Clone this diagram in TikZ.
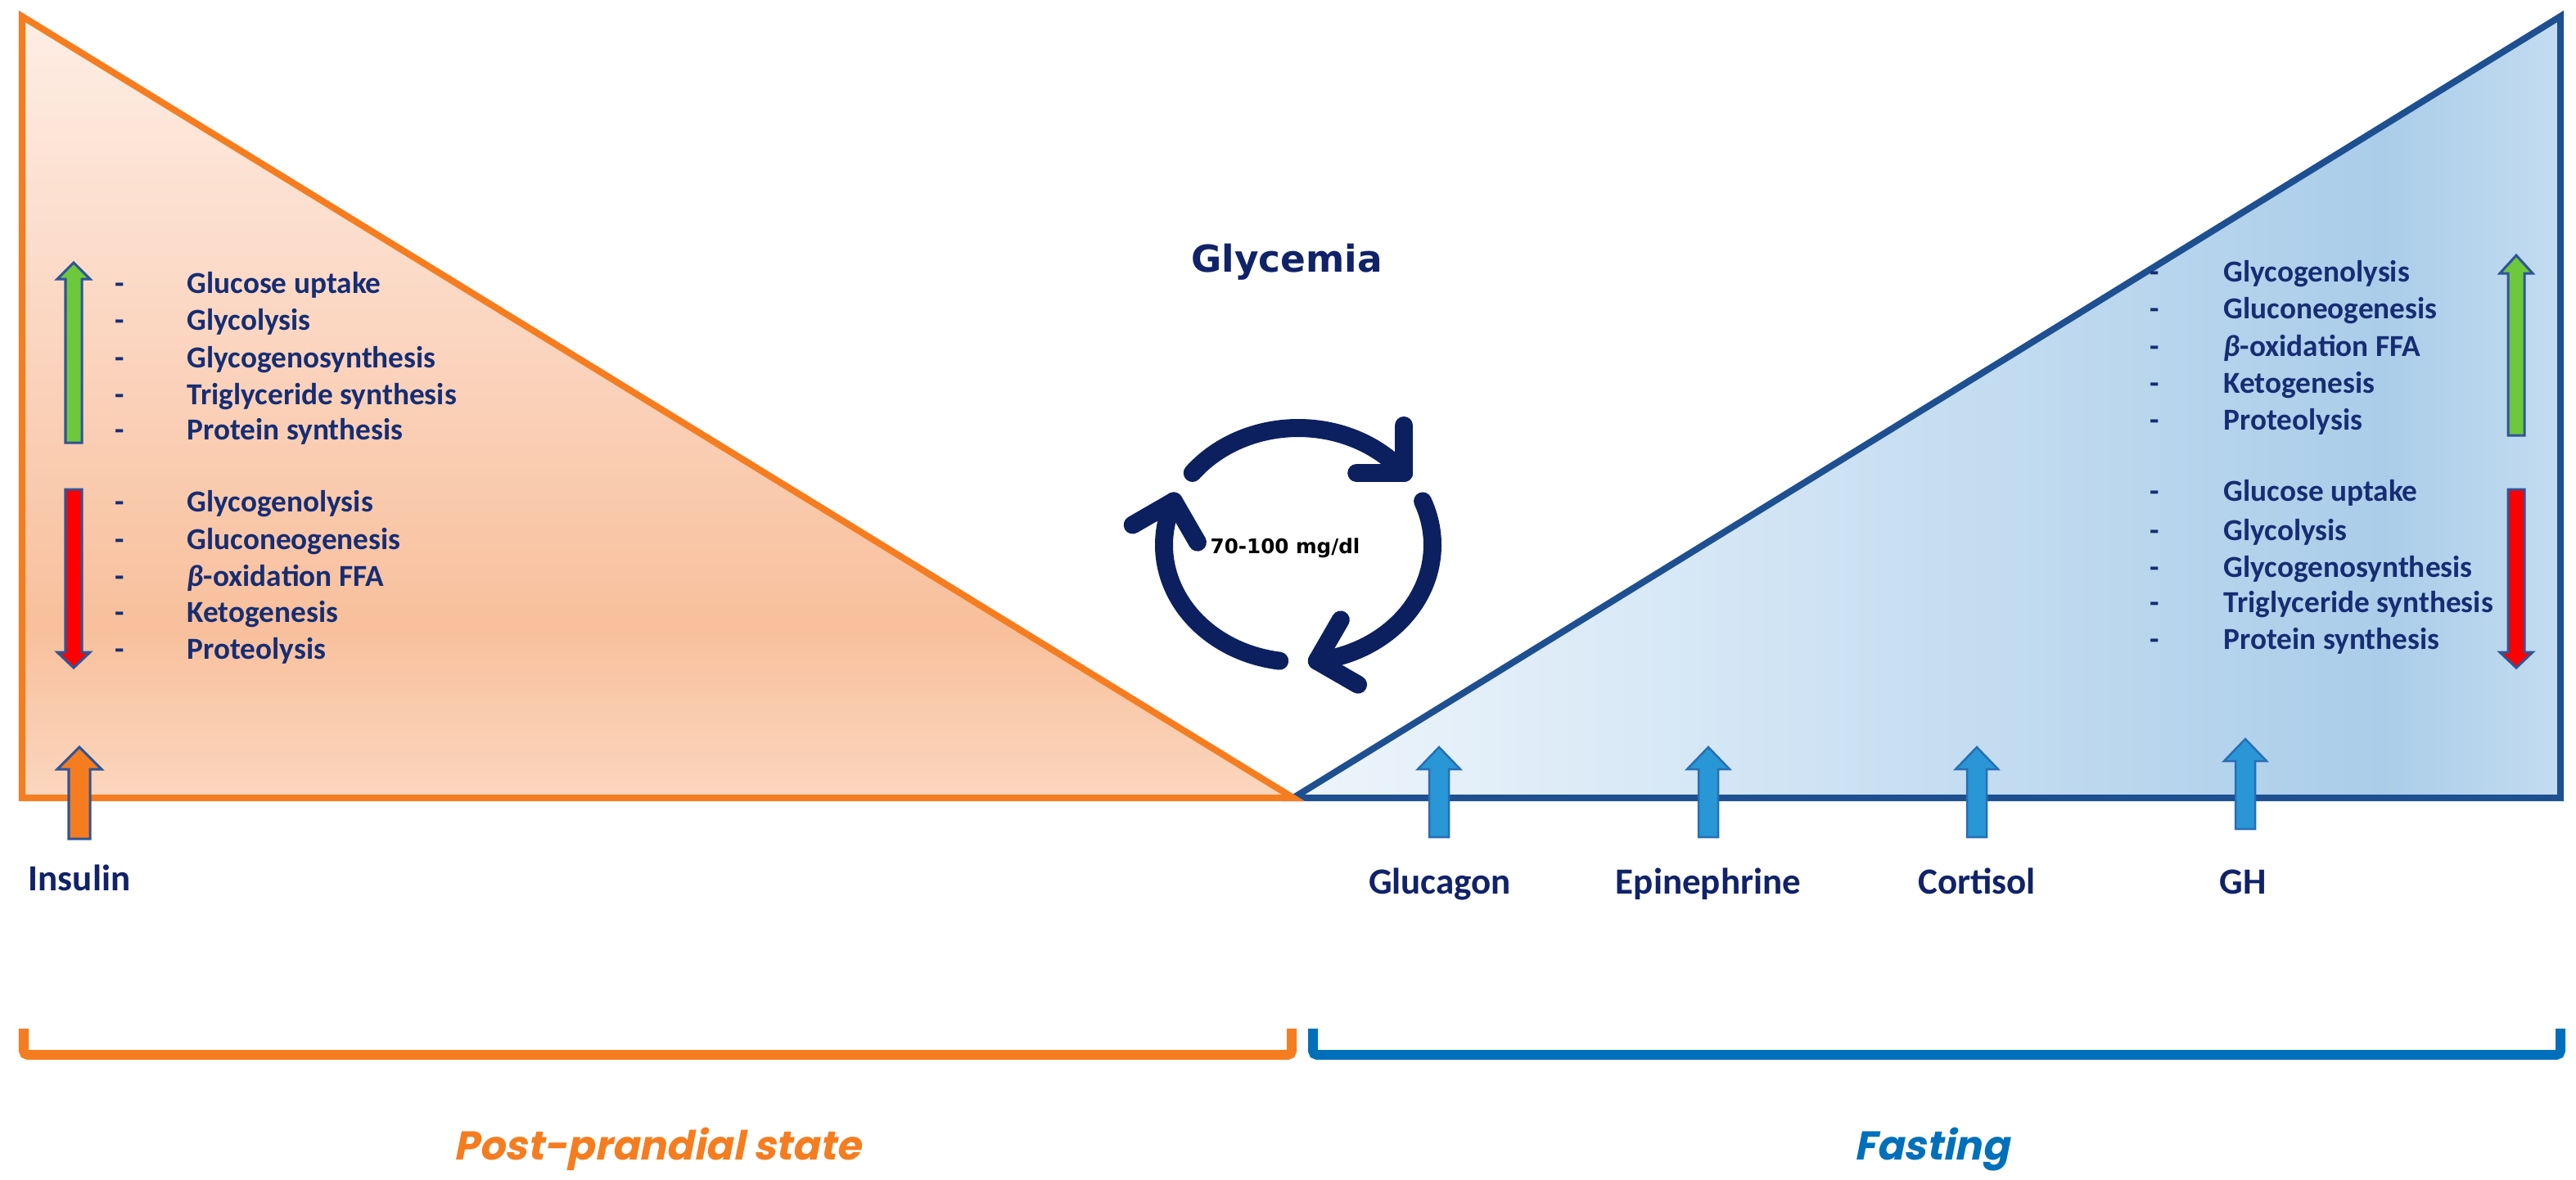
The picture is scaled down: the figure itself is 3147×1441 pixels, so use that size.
\documentclass[tikz,border=0pt]{standalone}
\usepackage{fontspec}
\setmainfont{Carlito}
\newfontfamily\djv{DejaVu Sans}
\newfontfamily\pop{Poppins}[FakeSlant=0.2]
\definecolor{orng}{RGB}{245,125,32}
\definecolor{tblue}{RGB}{30,80,145}
\definecolor{navy}{RGB}{22,45,115}
\definecolor{navyb}{RGB}{16,34,104}
\definecolor{cyc}{RGB}{12,32,96}
\definecolor{brblue}{RGB}{0,112,187}
\definecolor{arrline}{RGB}{47,85,151}
\definecolor{hfill}{RGB}{41,150,214}
\definecolor{hline}{RGB}{40,110,180}
\definecolor{agreen}{RGB}{110,200,60}
\definecolor{ared}{RGB}{255,0,0}
\definecolor{p1}{RGB}{251,214,190}
\definecolor{p2}{RGB}{248,192,156}
\definecolor{p3}{RGB}{251,214,193}
\definecolor{p4}{RGB}{254,238,229}
\definecolor{b1}{RGB}{238,245,251}
\definecolor{b2}{RGB}{212,230,245}
\definecolor{b3}{RGB}{170,205,233}
\definecolor{b4}{RGB}{195,220,240}
\pgfdeclareverticalshading{peach}{100bp}{color(0bp)=(p1); color(25bp)=(p1); color(36bp)=(p2); color(55bp)=(p3); color(75bp)=(p4); color(100bp)=(p4)}
\pgfdeclarehorizontalshading{skyb}{100bp}{color(0bp)=(b1); color(25bp)=(b1); color(42bp)=(b2); color(68bp)=(b3); color(75bp)=(b4); color(100bp)=(b4)}
% style, x, tip y, head base y, tail y, shaft half width, head half width
\newcommand{\vArr}[7]{\filldraw[#1] ({#2-#6},#5) -- ({#2-#6},#4) -- ({#2-#7},#4) -- (#2,#3) -- ({#2+#7},#4) -- ({#2+#6},#4) -- ({#2+#6},#5) -- cycle;}
\begin{document}
\begin{tikzpicture}[x=0.01cm,y=-0.01cm,
  lst/.style={font=\fontsize{10.6}{12}\selectfont\bfseries, text=navy, inner sep=0pt, text height=0.56em, text depth=0pt, anchor=west},
  dsh/.style={lst, anchor=center},
  hor/.style={font=\fontsize{12.8}{14}\selectfont\bfseries, text=navyb, inner sep=0pt, anchor=base},
  vbar/.style={line width=0.03cm, draw=arrline, line join=miter},
  harr/.style={line width=0.025cm, draw=hline, fill=hfill},
  cycl/.style={draw=cyc, line width=0.22cm, line cap=round, line join=round},
  bracket/.style={line width=0.12cm, rounded corners=0.05cm},
  state/.style={font=\pop\bfseries\fontsize{14}{16}\selectfont, inner sep=0pt, anchor=base}
]
\useasboundingbox (0,0) rectangle (3147,1441);
\fill[white] (0,0) rectangle (3147,1441);

% triangles
\shade[shading=skyb] (1580,975) -- (3128,975) -- (3128,20) -- cycle;
\draw[tblue, line width=0.08cm] (1580,975) -- (3128,975) -- (3128,20) -- cycle;
\shade[shading=peach] (27,20) -- (27,975) -- (1580,975) -- cycle;
\draw[orng, line width=0.08cm] (27,20) -- (27,975) -- (1580,975) -- cycle;

% left lists
\vArr{vbar, fill=agreen}{90}{321}{341}{541}{10}{20}
\vArr{vbar, fill=ared}{90}{816}{797}{598}{10}{20}
\foreach \y/\t [count=\i] in {349/Glucose uptake, 394/Glycolysis, 440/Glycogenosynthesis, 485/Triglyceride synthesis, 528/Protein synthesis, 616/Glycogenolysis, 662/Gluconeogenesis, 707/{{\itshape β}-oxidation FFA}, 751/Ketogenesis, 796/Proteolysis}{
  \node[dsh] (ld\i) at (146,\y) {-};
  \node[lst] (lt\i) at (228,\y) {\t};
}
% right lists
\vArr{vbar, fill=agreen}{3074}{312}{334}{532}{10}{20}
\vArr{vbar, fill=ared}{3074}{816}{797}{598}{10}{20}
\foreach \y/\t [count=\i] in {335/Glycogenolysis, 380/Gluconeogenesis, 426/{{\itshape β}-oxidation FFA}, 471/Ketogenesis, 516/Proteolysis, 603/Glucose uptake, 651/Glycolysis, 696/Glycogenosynthesis, 739/Triglyceride synthesis, 784/Protein synthesis}{
  \node[dsh] (rd\i) at (2632,\y) {-};
  \node[lst] (rt\i) at (2716,\y) {\t};
}

% hormone arrows
\vArr{line width=0.03cm, draw=arrline, fill=orng}{97}{913}{940}{1025}{13}{27}
\vArr{harr}{1758}{913}{940}{1023}{12}{26}
\vArr{harr}{2087}{913}{940}{1023}{12}{26}
\vArr{harr}{2415}{913}{940}{1023}{12}{26}
\vArr{harr}{2743}{903}{930}{1013}{12}{26}
\node[hor] (ins) at (97,1088) {Insulin};
\node[hor] (glu) at (1759,1092) {Glucagon};
\node[hor] (epi) at (2087,1092) {Epinephrine};
\node[hor] (cor) at (2415,1092) {Cortisol};
\node[hor] (gh) at (2740,1092) {GH};

% glycemia cycle
\node[font=\djv\bfseries\fontsize{12.9}{14}\selectfont, text=navyb, inner sep=0pt, anchor=base] (glyc) at (1572,332) {Glycemia};
\node[font=\djv\bfseries\fontsize{7}{9}\selectfont, text=black, inner sep=0pt, anchor=base] (range) at (1570,676) {70-100 mg/dl};
\begin{scope}[shift={(1586,666)}, y=0.01cm]
  \draw[cycl] (142:164 and 143) arc[start angle=142, end angle=38, x radius=164, y radius=143] coordinate (e1);
  \draw[cycl] (e1) ++(180:58) -- (e1) -- ++(90:58);
  \draw[cycl] (22:164 and 143) arc[start angle=22, end angle=-82, x radius=164, y radius=143] coordinate (e2);
  \draw[cycl] (e2) ++(60:58) -- (e2) -- ++(-30:58);
  \draw[cycl] (-98:164 and 143) arc[start angle=-98, end angle=-202, x radius=164, y radius=143] coordinate (e3);
  \draw[cycl] (e3) ++(-60:58) -- (e3) -- ++(-150:58);
\end{scope}

% brackets
\draw[bracket, orng] (29,1257) -- (29,1289) -- (1578,1289) -- (1578,1257);
\draw[bracket, brblue] (1604,1257) -- (1604,1289) -- (3128,1289) -- (3128,1257);
\node[state, text=orng] (post) at (803,1417) {Post-prandial state};
\node[state, text=brblue] (fast) at (2360,1417) {Fasting};
\end{tikzpicture}
\end{document}
